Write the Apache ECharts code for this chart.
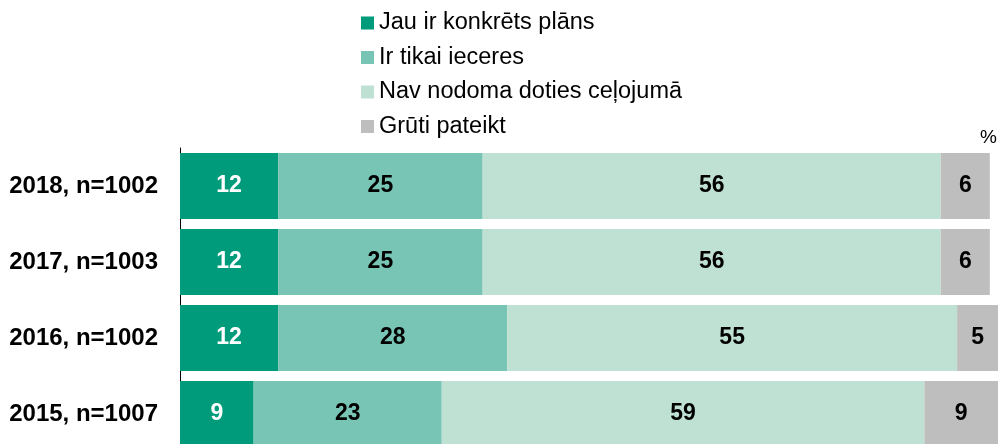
<!DOCTYPE html>
<html>
<head>
<meta charset="utf-8">
<script src="https://cdn.jsdelivr.net/npm/echarts@6/dist/echarts.min.js"></script>
<style>
  html, body { margin: 0; padding: 0; background: #ffffff; }
  #chart { width: 998px; height: 444px; }
</style>
</head>
<body>
<div id="chart"></div>
<script>
// Survey rows (top to bottom)
const categories = ['2018, n=1002', '2017, n=1003', '2016, n=1002', '2015, n=1007'];

// Answer groups, in stacking order
const seriesNames = ['Jau ir konkrēts plāns', 'Ir tikai ieceres', 'Nav nodoma doties ceļojumā', 'Grūti pateikt'];

// Shares (%) per row, following the category order
const concretePlan = [12, 12, 12, 9];
const onlyIdeas    = [25, 25, 28, 23];
const noIntention  = [56, 56, 55, 59];
const hardToSay    = [6, 6, 5, 9];

const seriesValues = [concretePlan, onlyIdeas, noIntention, hardToSay];
const colors = ['#009B7A', '#78C4B5', '#BFE1D4', '#BEBEBE'];
const labelColors = ['#ffffff', '#000000', '#000000', '#000000'];

const FONT = 'Liberation Sans, Arial, sans-serif';

const chart = echarts.init(document.getElementById('chart'), null, { renderer: 'canvas' });

chart.setOption({
  animation: false,
  backgroundColor: '#ffffff',
  title: {
    text: '%',
    right: 1,
    top: 128,
    padding: 0,
    textStyle: { fontFamily: FONT, fontSize: 19, fontWeight: 'normal', color: '#000000' }
  },
  legend: {
    orient: 'vertical',
    left: 361,
    top: 11,
    padding: 0,
    itemWidth: 13,
    itemHeight: 13,
    itemGap: 10.5,
    icon: 'rect',
    selectedMode: false,
    textStyle: { fontFamily: FONT, fontSize: 23.5, color: '#000000', lineHeight: 23 },
    data: seriesNames
  },
  // the last row runs past the lower edge of the canvas
  grid: { left: 180, right: 0, top: 148, height: 304, outerBoundsMode: 'none', containLabel: false },
  xAxis: {
    type: 'value',
    min: 0,
    max: 100,
    show: false
  },
  yAxis: {
    type: 'category',
    inverse: true,
    data: categories,
    axisLine: { show: true, lineStyle: { color: '#000000', width: 1 } },
    axisTick: { show: false },
    axisLabel: {
      margin: 22,
      fontFamily: FONT,
      fontSize: 24,
      fontWeight: 'bold',
      color: '#000000'
    }
  },
  series: seriesNames.map((name, i) => ({
    name: name,
    type: 'bar',
    stack: 'total',
    barWidth: 66,
    data: seriesValues[i],
    itemStyle: { color: colors[i] },
    label: {
      show: true,
      position: 'inside',
      fontFamily: FONT,
      fontSize: 23,
      fontWeight: 'bold',
      color: labelColors[i]
    }
  }))
});
</script>
</body>
</html>
